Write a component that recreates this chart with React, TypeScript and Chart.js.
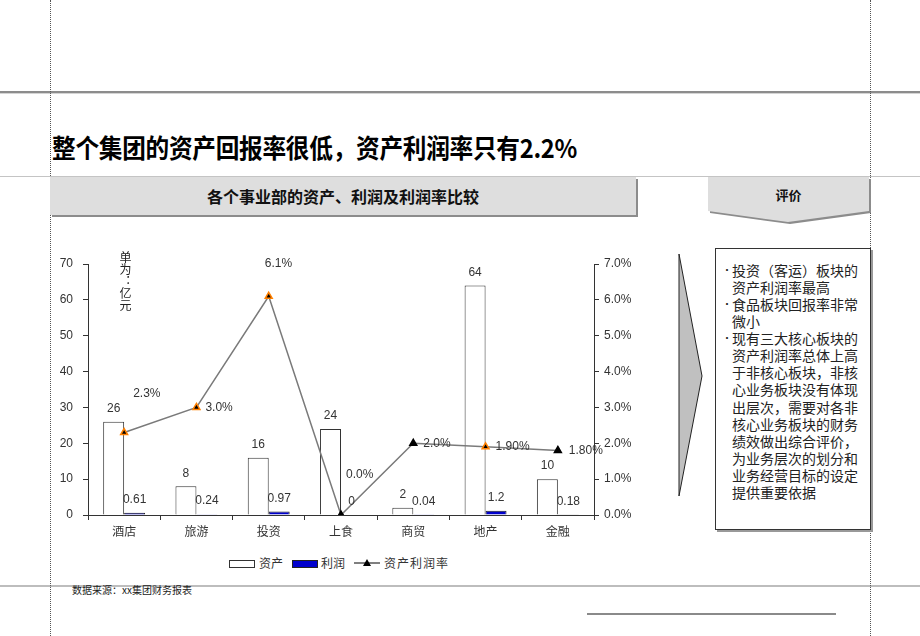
import React, { useEffect, useRef } from "react";
import { Chart, registerables } from "chart.js";

Chart.register(...registerables);

const categories = ["酒店", "旅游", "投资", "上食", "商贸", "地产", "金融"];
const assets = [26, 8, 16, 24, 2, 64, 10];
const profits = [0.61, 0.24, 0.97, 0, 0.04, 1.2, 0.18];
const rates = [2.3, 3.0, 6.1, 0, 2.0, 1.9, 1.8];
const rateLabels = ["2.3%", "3.0%", "6.1%", "0.0%", "2.0%", "1.90%", "1.80%"];
const leftTicks = [0, 10, 20, 30, 40, 50, 60, 70];
const rightTicks = [0, 1, 2, 3, 4, 5, 6, 7];

const highlighted = [true, true, true, false, false, true, false];

const panelLines: { text: string; bullet: boolean }[] = [
  { text: "投资（客运）板块的", bullet: true },
  { text: "资产利润率最高", bullet: false },
  { text: "食品板块回报率非常", bullet: true },
  { text: "微小", bullet: false },
  { text: "现有三大核心板块的", bullet: true },
  { text: "资产利润率总体上高", bullet: false },
  { text: "于非核心板块，非核", bullet: false },
  { text: "心业务板块没有体现", bullet: false },
  { text: "出层次，需要对各非", bullet: false },
  { text: "核心业务板块的财务", bullet: false },
  { text: "绩效做出综合评价，", bullet: false },
  { text: "为业务层次的划分和", bullet: false },
  { text: "业务经营目标的设定", bullet: false },
  { text: "提供重要依据", bullet: false },
];

const LATIN = "'Liberation Sans', Arial, sans-serif";
const CJK = "'Noto Sans CJK SC', 'Liberation Sans', sans-serif";

// label placement (style) for the rate labels, relative to each point
const RATE_OFFSETS: [number, number][] = [
  [9, -39],
  [9, 0],
  [-4, -33],
  [5, -40],
  [10, 0],
  [10, 0],
  [11, 0],
];

const labelPlugin = {
  id: "valueLabels",
  afterDatasetsDraw(chart: any) {
    const ctx = chart.ctx;
    ctx.save();
    ctx.font = `12px ${LATIN}`;
    ctx.fillStyle = "#333";
    ctx.textBaseline = "middle";
    [0, 1].forEach((di) => {
      const meta = chart.getDatasetMeta(di);
      meta.data.forEach((el: any, i: number) => {
        const v = chart.data.datasets[di].data[i];
        ctx.textAlign = "center";
        ctx.fillText(String(v), el.x, el.y - 13);
      });
    });
    const lm = chart.getDatasetMeta(2);
    lm.data.forEach((el: any, i: number) => {
      const [dx, dy] = RATE_OFFSETS[i];
      ctx.textAlign = "left";
      ctx.fillText(rateLabels[i], el.x + dx, el.y + dy);
    });
    ctx.restore();
  },
};

function ChartBox() {
  const ref = useRef<HTMLCanvasElement | null>(null);
  useEffect(() => {
    if (!ref.current) return;
    Chart.defaults.font.family = CJK;
    const chart = new Chart(ref.current, {
      type: "bar",
      data: {
        labels: categories,
        datasets: [
          {
            type: "bar",
            label: "资产",
            data: assets,
            backgroundColor: "#ffffff",
            borderColor: "#333333",
            borderWidth: 1,
            yAxisID: "y",
            order: 2,
            categoryPercentage: 0.58,
            barPercentage: 1,
          } as any,
          {
            type: "bar",
            label: "利润",
            data: profits,
            backgroundColor: "#0000cc",
            borderColor: "#222222",
            borderWidth: 1,
            yAxisID: "y",
            order: 2,
            categoryPercentage: 0.58,
            barPercentage: 1,
          } as any,
          {
            type: "line",
            label: "资产利润率",
            data: rates,
            yAxisID: "y1",
            borderColor: "#7a7a7a",
            borderWidth: 1.5,
            pointStyle: "triangle",
            pointRadius: 4,
            pointBackgroundColor: "#000000",
            pointBorderColor: highlighted.map((h) => (h ? "#ff8000" : "#000000")),
            pointBorderWidth: 1.5,
            order: 0,
            tension: 0,
          } as any,
        ],
      },
      options: {
        animation: false,
        responsive: false,
        maintainAspectRatio: false,
        layout: { padding: { top: 24, left: 0, right: 0, bottom: 0 } },
        plugins: { legend: { display: false }, tooltip: { enabled: false } },
        scales: {
          x: {
            offset: true,
            grid: {
              offset: true,
              drawOnChartArea: false,
              drawTicks: true,
              tickLength: 5,
              color: "#333",
            },
            border: { display: true, color: "#333" },
            ticks: { color: "#333", font: { size: 12, family: CJK }, padding: 4 },
            afterFit: (s: any) => {
              s.height = 35;
            },
          },
          y: {
            position: "left",
            min: 0,
            max: 70,
            afterBuildTicks: (s: any) => {
              s.ticks = leftTicks.map((v) => ({ value: v }));
            },
            grid: { drawOnChartArea: false, tickLength: 5, color: "#333" },
            border: { display: true, color: "#333" },
            ticks: { color: "#333", font: { size: 12, family: LATIN }, padding: 10 },
            afterFit: (s: any) => {
              s.width = 48;
            },
          },
          y1: {
            position: "right",
            min: 0,
            max: 7,
            afterBuildTicks: (s: any) => {
              s.ticks = rightTicks.map((v) => ({ value: v }));
            },
            grid: { drawOnChartArea: false, tickLength: 5, color: "#333" },
            border: { display: true, color: "#333" },
            ticks: {
              color: "#333",
              font: { size: 12, family: LATIN },
              padding: 5,
              callback: (v: any) => Number(v).toFixed(1) + "%",
            },
            afterFit: (s: any) => {
              s.width = 46;
            },
          },
        },
      } as any,
      plugins: [labelPlugin],
    });
    return () => chart.destroy();
  }, []);
  return (
    <canvas
      ref={ref}
      width={600}
      height={310}
      style={{ position: "absolute", left: 40, top: 240, width: 600, height: 310 }}
    />
  );
}

export default function App() {
  const abs = (s: React.CSSProperties): React.CSSProperties => ({ position: "absolute", ...s });
  return (
    <div
      style={{
        position: "absolute",
        left: 0,
        top: 0,
        width: 920,
        height: 636,
        background: "#fff",
        overflow: "hidden",
        fontFamily: CJK,
        color: "#111",
      }}
    >
      {/* horizontal guide lines */}
      <div style={abs({ left: 0, top: 91, width: 920, height: 2, background: "#8c8c8c" })} />
      <div style={abs({ left: 0, top: 93, width: 920, height: 1, background: "#d4d4d4" })} />
      <div style={abs({ left: 0, top: 176, width: 920, height: 1, background: "#c4c4c4" })} />
      <div style={abs({ left: 0, top: 585, width: 920, height: 2, background: "#bdbdbd" })} />
      <div style={abs({ left: 587, top: 613, width: 249, height: 2, background: "#8a8a8a" })} />
      {/* vertical dotted lines */}
      <div style={abs({ left: 50, top: 0, width: 0, height: 636, borderLeft: "1px dotted #555" })} />
      <div style={abs({ left: 870, top: 0, width: 0, height: 636, borderLeft: "1px dotted #555" })} />

      {/* title */}
      <div
        style={abs({
          left: 52,
          top: 131,
          fontSize: 26,
          lineHeight: "32px",
          fontWeight: 700,
          whiteSpace: "nowrap",
          letterSpacing: -0.3,
          color: "#000",
          transform: "scaleX(0.91)",
          transformOrigin: "left center",
        })}
      >
        整个集团的资产回报率很低，资产利润率只有2.2%
      </div>

      {/* chart header box */}
      <div style={abs({ left: 52, top: 179, width: 586, height: 38, background: "#8c8c8c" })} />
      <div
        style={abs({
          left: 50,
          top: 177,
          width: 586,
          height: 38,
          background: "#dedede",
          textAlign: "center",
          lineHeight: "38px",
          fontSize: 16,
          fontWeight: 700,
          color: "#111",
        })}
      >
        各个事业部的资产、利润及利润率比较
      </div>

      {/* 评价 header + panel shapes */}
      <svg style={abs({ left: 0, top: 0 })} width={920} height={636}>
        <polygon points="710,179 871,179 871,213 790,224 710,213" fill="#8c8c8c" />
        <polygon points="708,177 869,177 869,211 788,222 708,211" fill="#dedede" />
        <polygon points="679,254 702,376 679,496" fill="#c0c0c0" stroke="#222" strokeWidth={1} />
      </svg>
      <div
        style={abs({
          left: 708,
          top: 185,
          width: 161,
          textAlign: "center",
          fontSize: 13,
          lineHeight: "20px",
          fontWeight: 700,
          color: "#111",
        })}
      >
        评价
      </div>

      {/* text panel */}
      <div
        style={abs({
          left: 715,
          top: 248,
          width: 154,
          height: 280,
          border: "1px solid #333",
          boxShadow: "2px 2px 0 #999",
          background: "#fff",
        })}
      />
      {panelLines.map((l, i) => (
        <div
          key={i}
          style={abs({
            left: 732,
            top: 261 + i * 17.07,
            fontSize: 14,
            lineHeight: "18px",
            whiteSpace: "nowrap",
            color: "#222",
          })}
        >
          {l.bullet && (
            <span style={{ position: "absolute", left: -10, top: 0, fontSize: 10, lineHeight: "18px" }}>•</span>
          )}
          {l.text}
        </div>
      ))}

      {/* chart */}
      <ChartBox />
      <div
        style={abs({
          left: 119,
          top: 251,
          writingMode: "vertical-rl",
          fontSize: 12,
          lineHeight: "12px",
          color: "#222",
        })}
      >
        单为：亿元
      </div>

      {/* legend */}
      <div style={abs({ left: 229, top: 560, width: 24, height: 6, border: "1px solid #333", background: "#fff" })} />
      <div style={abs({ left: 259, top: 555, fontSize: 12, lineHeight: "16px", color: "#333" })}>资产</div>
      <div style={abs({ left: 292, top: 560, width: 24, height: 6, border: "1px solid #222", background: "#0000cc" })} />
      <div style={abs({ left: 321, top: 555, fontSize: 12, lineHeight: "16px", color: "#333" })}>利润</div>
      <svg style={abs({ left: 352, top: 556 })} width={30} height={14}>
        <line x1={2} y1={7} x2={28} y2={7} stroke="#000" strokeWidth={1} />
        <polygon points="15,3 19,10 11,10" fill="#000" />
      </svg>
      <div style={abs({ left: 384, top: 555, fontSize: 12, lineHeight: "16px", color: "#333", letterSpacing: 1 })}>
        资产利润率
      </div>

      {/* source */}
      <div style={abs({ left: 72, top: 583, fontSize: 10, lineHeight: "14px", color: "#222", whiteSpace: "nowrap" })}>
        数据来源：xx集团财务报表
      </div>
    </div>
  );
}
